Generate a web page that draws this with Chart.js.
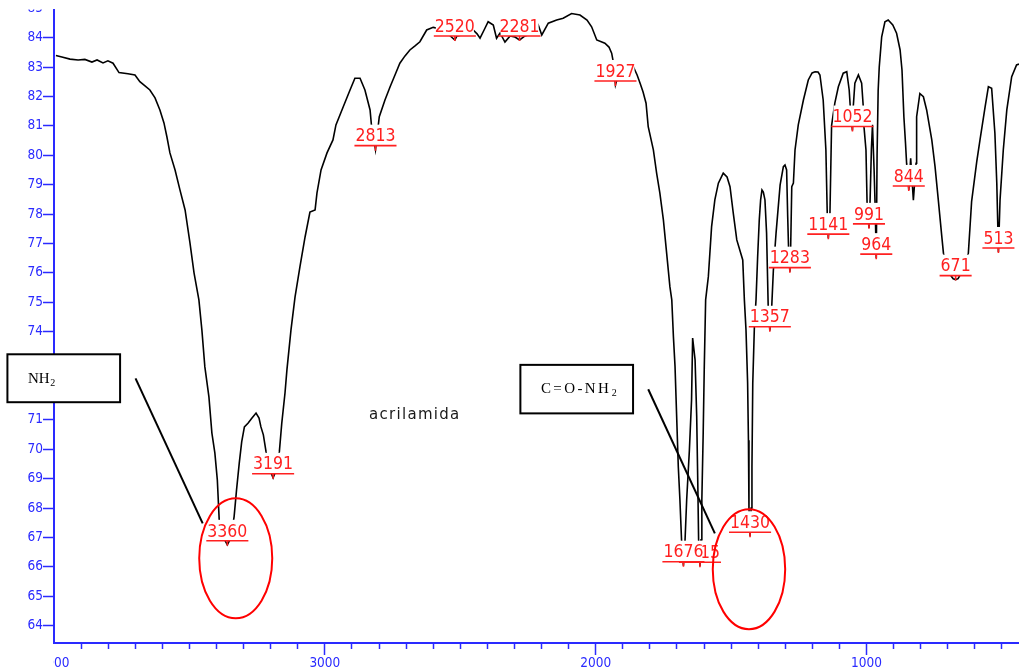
<!DOCTYPE html>
<html>
<head>
<meta charset="utf-8">
<title>acrilamida – IR</title>
<script src="https://cdn.jsdelivr.net/npm/chart.js@4.4.1/dist/chart.umd.min.js"></script>
<style>
  html, body { margin: 0; padding: 0; background: #ffffff; }
  #wrap { width: 1019px; height: 669px; position: relative; }
</style>
</head>
<body>
<div id="wrap"><canvas id="ir" width="1019" height="669"></canvas></div>
<script>
// Wavenumber (cm-1) and transmittance (%T) of the acrylamide spectrum
const wavenumbers = [
  3993,3971,3941,3911,3886,3860,3841,3819,3801,3782,
  3760,3727,3701,3683,3664,3646,3627,3609,3594,3583,
  3572,3553,3535,3516,3498,3483,3465,3454,3443,3428,
  3417,3406,3397,3390,3380,3360,3347,3335,3326,3316,
  3307,3297,3283,3269,3254,3243,3236,3227,3217,3206,
  3191,3177,3168,3159,3147,3140,3125,3110,3092,3073,
  3055,3036,3029,3014,2992,2970,2959,2932,2907,2889,
  2870,2852,2833,2828,2813,2799,2778,2759,2741,2723,
  2704,2686,2667,2649,2624,2600,2575,2549,2520,2512,
  2495,2475,2452,2438,2427,2412,2397,2378,2366,2353,
  2335,2316,2298,2281,2261,2235,2212,2199,2175,2144,
  2120,2089,2058,2032,2015,1996,1966,1951,1941,1935,
  1927,1903,1881,1861,1847,1836,1825,1814,1806,1787,
  1775,1763,1750,1738,1726,1719,1713,1707,1701,1695,
  1689,1683,1676,1670,1664,1654,1646,1642,1633,1627,
  1623,1620,1615,1611,1608,1603,1599,1594,1584,1572,
  1560,1547,1529,1515,1504,1492,1479,1457,1451,1445,
  1439,1436,1434,1430,1426,1423,1420,1414,1408,1402,
  1396,1391,1386,1381,1375,1369,1363,1357,1350,1344,
  1334,1319,1307,1301,1295,1291,1288,1283,1280,1276,
  1270,1264,1252,1233,1215,1201,1190,1179,1172,1160,
  1150,1145,1141,1135,1129,1117,1104,1086,1073,1064,
  1060,1052,1049,1043,1030,1018,1012,1009,1002,998,
  991,987,982,978,972,968,964,961,957,953,
  944,932,920,903,889,876,869,862,856,852,
  844,837,827,817,815,803,790,778,759,747,
  735,722,716,703,692,680,671,662,650,636,
  624,612,593,581,562,550,538,526,519,513,
  507,495,482,464,446,437
];
const transmittance = [
  83.39,83.34,83.27,83.24,83.26,83.17,83.24,83.14,83.21,83.13,
  82.81,82.77,82.73,82.50,82.36,82.22,81.95,81.54,81.10,80.62,
  80.08,79.50,78.82,78.14,77.02,76.00,75.08,74.06,72.80,71.78,
  70.55,69.87,68.96,67.60,67.09,66.75,66.98,67.71,68.62,69.53,
  70.25,70.76,70.89,71.06,71.23,71.06,70.76,70.49,69.91,69.36,
  69.03,69.36,69.91,70.89,71.92,72.70,74.06,75.18,76.20,77.22,
  78.07,78.14,78.72,79.50,80.08,80.52,81.03,81.65,82.22,82.62,
  82.62,82.22,81.54,81.03,80.19,81.31,81.88,82.33,82.73,83.13,
  83.38,83.58,83.72,83.86,84.26,84.35,84.30,84.16,83.92,84.06,
  84.09,84.23,84.26,84.13,83.98,84.26,84.54,84.43,83.98,84.16,
  83.85,84.06,84.02,83.92,84.06,84.13,84.43,84.09,84.49,84.60,
  84.66,84.82,84.77,84.60,84.37,83.92,83.81,83.68,83.47,83.18,
  82.39,83.17,83.15,83.01,82.73,82.45,82.15,81.77,80.97,80.18,
  79.39,78.71,77.80,76.67,75.53,75.08,73.83,72.81,71.11,69.41,
  68.28,66.92,66.04,66.92,68.28,69.97,71.68,73.78,73.04,71.11,
  68.85,66.92,66.02,66.92,68.28,70.56,72.81,75.08,75.87,77.57,
  78.48,79.05,79.39,79.26,78.93,78.03,77.12,76.44,75.08,74.06,
  72.25,70.31,68.00,67.04,68.00,69.41,72.25,74.17,75.08,76.55,
  77.80,78.48,78.82,78.75,78.48,77.35,74.85,74.03,74.85,76.07,
  77.35,78.99,79.61,79.67,79.50,77.91,76.89,76.04,76.89,78.93,
  79.05,80.18,81.03,81.88,82.56,82.80,82.84,82.83,82.73,81.88,
  80.18,78.03,77.18,78.03,81.01,81.77,82.33,82.79,82.84,82.22,
  81.65,80.84,81.65,82.45,82.73,82.45,81.65,80.93,80.18,78.40,
  77.53,78.40,80.20,81.04,79.50,78.20,76.50,80.00,82.20,83.00,
  84.03,84.54,84.60,84.43,84.15,83.58,82.90,81.30,80.40,79.73,
  78.82,79.90,78.47,79.73,81.31,82.10,81.99,81.54,80.52,79.61,
  78.48,77.23,76.67,76.20,75.95,75.80,75.77,75.80,76.00,76.35,
  76.67,78.42,79.78,80.52,81.65,82.33,82.28,80.75,79.05,76.71,
  78.48,80.18,81.54,82.67,83.07,83.10
];

// Marked absorption bands
const peakLabels = [3360, 3191, 2813, 2520, 2281, 1927, 1676, 1615, 1430, 1357, 1283, 1141, 1052, 991, 964, 844, 671, 513];

// Axis ticks
const xTickValues = [4000,3900,3800,3700,3600,3500,3400,3300,3200,3100,
                     3000,2900,2800,2700,2600,2500,2400,2300,2200,2100,
                     2000,1900,1800,1700,1600,1500,1400,1300,1200,1100,
                     1000,900,800,700,600,500];
const xTickLabels = [4000, 3000, 2000, 1000];
const yTickValues = [64,65,66,67,68,69,70,71,72,73,74,75,76,77,78,79,80,81,82,83,84];
const yTopLabel = 85;

// Callout boxes, pointers and rings, placed in data units (cm-1, %T)
const callouts = {
  boxes: [
    { x0: 4172, x1: 3756, y0: 73.23, y1: 71.60, main: 'NH', sub: '2', tx: 4096, ty: 72.26, spacing: 0 },
    { x0: 2278, x1: 1862, y0: 72.87, y1: 71.22, main: 'C=O-NH', sub: '2', tx: 2202, ty: 71.90, spacing: 2.4 }
  ],
  pointers: [
    { x0: 3699, y0: 72.41, x1: 3451, y1: 67.48 },
    { x0: 1806, y0: 72.04, x1: 1560, y1: 67.14 }
  ],
  rings: [
    { cx: 3329, cy: 66.29, rx: 134.8, ry: 2.04 },
    { cx: 1434, cy: 65.92, rx: 133.7, ry: 2.04 }
  ],
  title: { text: 'acrilamida', x: 2837, y: 71.17 }
};

const BLUE = '#2a2aff';
const RED = '#ff2020';
const SANS = '"DejaVu Sans Condensed", "DejaVu Sans", sans-serif';

// Numbers above each marked band, with a white backing, underline and a stub down to the band
const peakLabelPlugin = {
  id: 'peakLabels',
  afterDatasetsDraw(chart) {
    const { ctx, scales: { x, y } } = chart;
    ctx.save();
    ctx.font = '17.5px ' + SANS;
    ctx.textAlign = 'center';
    ctx.textBaseline = 'alphabetic';
    const order = peakLabels.slice().sort((a, b) => a - b);
    for (const wn of order) {
      const i = wavenumbers.indexOf(wn);
      const px = x.getPixelForValue(wn);
      const py = y.getPixelForValue(transmittance[i]);
      const text = String(wn);
      const w = ctx.measureText(text).width;
      const left = px - w / 2 - 1;
      ctx.fillStyle = '#ffffff';
      ctx.fillRect(px - w / 2 + 1, py - 25, w - 2, 21);
      ctx.fillStyle = RED;
      ctx.fillText(text, px, py - 8.3);
      ctx.strokeStyle = RED;
      ctx.lineWidth = 1.6;
      ctx.beginPath();
      ctx.moveTo(left, py - 4);
      ctx.lineTo(left + w + 2, py - 4);
      ctx.moveTo(px, py - 4);
      ctx.lineTo(px, py + 1);
      ctx.stroke();
    }
    ctx.restore();
  }
};

// Callout boxes, pointer lines, rings, the sample name and axis edge details
const calloutPlugin = {
  id: 'callouts',
  afterDraw(chart) {
    const { ctx, scales: { x, y } } = chart;
    ctx.save();

    // the top tick label sits partly above the plotting frame
    ctx.save();
    ctx.beginPath();
    ctx.rect(0, 9.5, y.right, 30);
    ctx.clip();
    ctx.fillStyle = BLUE;
    ctx.font = '13.5px ' + SANS;
    ctx.textAlign = 'right';
    ctx.textBaseline = 'middle';
    ctx.fillText(String(yTopLabel), y.right - 11, y.getPixelForValue(yTopLabel));
    ctx.restore();

    // the leftmost x label is cut by the frame edge
    ctx.fillStyle = '#ffffff';
    ctx.fillRect(0, x.top + 3, x.left - 1, chart.height - x.top);

    // sample name
    ctx.fillStyle = '#1a1a1a';
    ctx.font = '15px "DejaVu Sans", sans-serif';
    ctx.letterSpacing = '1.3px';
    ctx.textAlign = 'left';
    ctx.textBaseline = 'middle';
    ctx.fillText(callouts.title.text, x.getPixelForValue(callouts.title.x), y.getPixelForValue(callouts.title.y));
    ctx.letterSpacing = '0px';

    // pointer lines
    ctx.strokeStyle = '#000000';
    ctx.lineWidth = 2;
    for (const p of callouts.pointers) {
      ctx.beginPath();
      ctx.moveTo(x.getPixelForValue(p.x0), y.getPixelForValue(p.y0));
      ctx.lineTo(x.getPixelForValue(p.x1), y.getPixelForValue(p.y1));
      ctx.stroke();
    }

    // boxes
    for (const b of callouts.boxes) {
      const bx0 = x.getPixelForValue(b.x0), bx1 = x.getPixelForValue(b.x1);
      const by0 = y.getPixelForValue(b.y0), by1 = y.getPixelForValue(b.y1);
      ctx.fillStyle = '#ffffff';
      ctx.fillRect(bx0, by0, bx1 - bx0, by1 - by0);
      ctx.strokeStyle = '#000000';
      ctx.lineWidth = 2;
      ctx.strokeRect(bx0, by0, bx1 - bx0, by1 - by0);
      const tx = x.getPixelForValue(b.tx), ty = y.getPixelForValue(b.ty);
      ctx.fillStyle = '#000000';
      ctx.textAlign = 'left';
      ctx.textBaseline = 'alphabetic';
      ctx.font = '15px "Liberation Serif", "Times New Roman", serif';
      ctx.letterSpacing = b.spacing + 'px';
      ctx.fillText(b.main, tx, ty);
      const mw = ctx.measureText(b.main).width;
      ctx.letterSpacing = '0px';
      ctx.font = '10px "Liberation Serif", "Times New Roman", serif';
      ctx.fillText(b.sub, tx + mw + 0.5, ty + 3);
    }

    // rings
    ctx.strokeStyle = '#ff0000';
    ctx.lineWidth = 2;
    for (const r of callouts.rings) {
      const cx = x.getPixelForValue(r.cx), cy = y.getPixelForValue(r.cy);
      const rx = Math.abs(x.getPixelForValue(r.cx - r.rx) - cx);
      const ry = Math.abs(y.getPixelForValue(r.cy - r.ry) - cy);
      ctx.beginPath();
      ctx.ellipse(cx, cy, rx, ry, 0, 0, Math.PI * 2);
      ctx.stroke();
    }
    ctx.restore();
  }
};

const points = wavenumbers.map((w, i) => ({ x: w, y: transmittance[i] }));

new Chart(document.getElementById('ir'), {
  type: 'line',
  data: {
    datasets: [{
      data: points,
      borderColor: '#000000',
      borderWidth: 1.6,
      pointRadius: 0,
      tension: 0,
      fill: false
    }]
  },
  options: {
    responsive: false,
    animation: false,
    devicePixelRatio: 1,
    layout: { padding: { top: 10, left: 0, right: 0, bottom: 0 } },
    plugins: { legend: { display: false }, tooltip: { enabled: false } },
    scales: {
      x: {
        type: 'linear',
        position: 'bottom',
        reverse: true,
        min: 437,
        max: 4000,
        afterBuildTicks: (s) => { s.ticks = xTickValues.map(v => ({ value: v })); },
        afterFit: (s) => { s.height = 26; },
        border: { display: true, color: BLUE, width: 2 },
        grid: {
          drawOnChartArea: false,
          drawTicks: true,
          tickLength: 12,
          tickWidth: 1.5,
          tickColor: (c) => (c.tick && c.tick.value === 4000) ? 'rgba(0,0,0,0)' : BLUE,
          tickBorderDash: (c) => (c.tick && xTickLabels.includes(c.tick.value)) ? [] : [5, 30]
        },
        ticks: {
          color: BLUE,
          font: { family: SANS, size: 13.5 },
          padding: 0,
          autoSkip: false,
          maxRotation: 0,
          callback: (v) => xTickLabels.includes(v) ? String(v) : ''
        }
      },
      y: {
        type: 'linear',
        min: 63.41,
        max: 84.94,
        afterBuildTicks: (s) => { s.ticks = yTickValues.map(v => ({ value: v })); },
        afterFit: (s) => { s.width = 54; },
        border: { display: true, color: BLUE, width: 2 },
        grid: {
          drawOnChartArea: false,
          drawTicks: true,
          tickLength: 11,
          tickWidth: 1.5,
          tickColor: BLUE
        },
        ticks: {
          color: BLUE,
          font: { family: SANS, size: 13.5 },
          padding: 0,
          autoSkip: false,
          callback: (v) => String(v)
        }
      }
    }
  },
  plugins: [peakLabelPlugin, calloutPlugin]
});
</script>
</body>
</html>
